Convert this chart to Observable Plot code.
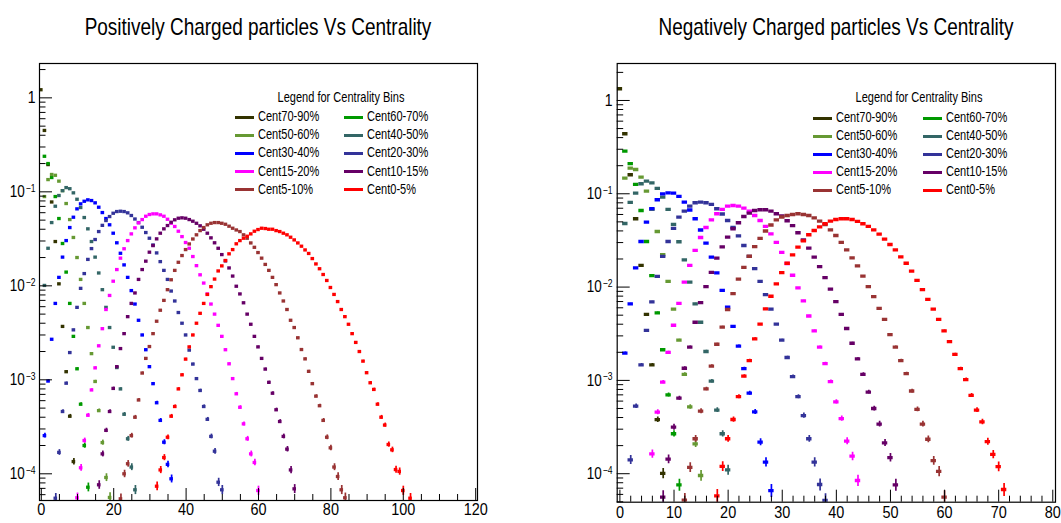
<!DOCTYPE html>
<html><head><meta charset="utf-8">
<script src="https://cdn.jsdelivr.net/npm/d3@7"></script>
<script src="https://cdn.jsdelivr.net/npm/@observablehq/plot@0.6"></script>
<style>
html,body{margin:0;padding:0;background:#fff;}
#root{position:relative;width:1061px;height:523px;overflow:hidden;font-family:"Liberation Sans",Arial,Helvetica,sans-serif;}
.panel{position:absolute;top:0;}
.lbl{position:absolute;white-space:nowrap;line-height:1;color:#000;}
.swatch{position:absolute;height:3px;}
</style></head><body><div id="root"></div>
<script>
// ---------- categories, colours, ticks ----------
const categories = ["Cent70-90%","Cent60-70%","Cent50-60%","Cent40-50%","Cent30-40%","Cent20-30%","Cent15-20%","Cent10-15%","Cent5-10%","Cent0-5%"];
const colors = ["#333300","#009900","#669933","#336666","#0000ff","#333399","#ff00ff","#660066","#993333","#ff0000"];
const titles = ["Positively Charged particles Vs Centrality","Negatively Charged particles Vs Centrality"];
const legendTitle = "Legend for Centrality Bins";
const xMajorPos = [0,20,40,60,80,100,120];
const xMinorPos = [5,10,15,25,30,35,45,50,55,65,70,75,85,90,95,105,110,115];
const xMajorNeg = [0,10,20,30,40,50,60,70,80];
const xMinorNeg = [2,4,6,8,12,14,16,18,22,24,26,28,32,34,36,38,42,44,46,48,52,54,56,58,62,64,66,68,72,74,76,78];
const yMajorTicks = [1e-4,1e-3,1e-2,1e-1,1];
const yMinorTicks = [5e-5,6e-5,7e-5,8e-5,9e-5,2e-4,3e-4,4e-4,5e-4,6e-4,7e-4,8e-4,9e-4,2e-3,3e-3,4e-3,5e-3,6e-3,7e-3,8e-3,9e-3,0.02,0.03,0.04,0.05,0.06,0.07,0.08,0.09,0.2,0.3,0.4,0.5,0.6,0.7,0.8,0.9,2];

// ---------- positively charged: first bin of each series and bin contents ----------
const posFirstBin = [0,1,1,1,1,4,10,16,22,32];
const posCent70_90 = [1.22,0.45,0.195,0.078,0.0296,0.0105,0.0037,0.00122,0.00041,0.000135];
const posCent60_70 = [0.239,0.200,0.142,0.0891,0.0520,0.0282,0.0140,0.0065,0.0029,0.00131,0.00055,0.00020,0.000072];
const posCent50_60 = [0.0891,0.135,0.153,0.150,0.130,0.103,0.0751,0.0507,0.0327,0.0200,0.0117,0.0065,0.0036,0.0019,0.00096,0.00047,0.000215,0.0000914,0.000056];
const posCent40_50 = [0.0101,0.0251,0.0471,0.0703,0.0914,0.103,0.111,0.108,0.0976,0.0834,0.0681,0.0533,0.0404,0.0296,0.0202,0.0137,0.0091,0.0059,0.0036,0.00222,0.00135,0.00080,0.00043,0.000236,0.000118,0.0000676];
const posCent30_40 = [2.55e-4,9.7e-4,2.7e-3,6.5e-3,0.0123,0.0202,0.0303,0.0417,0.0537,0.0659,0.0745,0.0794,0.0822,0.0808,0.0764,0.0686,0.0602,0.0520,0.0446,0.0363,0.0287,0.0222,0.0167,0.0123,0.0089,0.0064,0.0043,0.0030,0.00209,0.00138,0.00091,0.00057,0.00037,0.000217,0.000126,0.0000885];
const posCent20_30 = [5.5e-5,1.69e-4,4.6e-4,9.2e-4,1.95e-3,3.4e-3,5.9e-3,9.4e-3,0.0135,0.0191,0.0249,0.0311,0.0378,0.0440,0.0495,0.0546,0.0592,0.0617,0.0622,0.0617,0.0598,0.0560,0.0514,0.0471,0.0420,0.0369,0.0321,0.0272,0.0224,0.0181,0.0146,0.0117,0.0088,0.0069,0.0052,0.0040,0.0030,0.00207,0.00147,0.00103,0.00077,0.00052,0.00038,0.00025,0.000174,0.0000814,0.0000676];
const posCent15_20 = [5.56e-5,1.16e-4,2.26e-4,4.2e-4,7.8e-4,1.34e-3,2.3e-3,3.5e-3,5.6e-3,7.9e-3,0.0112,0.0149,0.0197,0.0248,0.0303,0.0357,0.0414,0.0468,0.0507,0.0550,0.0574,0.0583,0.0583,0.0569,0.0550,0.0511,0.0463,0.0428,0.0381,0.0334,0.0289,0.0251,0.0205,0.0164,0.0131,0.0107,0.0082,0.0064,0.0050,0.0038,0.0029,0.00209,0.00148,0.00103,0.00071,0.00051,0.00034,0.000236,0.000163,0.000132,0.0000664];
const posCent10_15 = [7.64e-5,1.63e-4,2.9e-4,4.6e-4,8.1e-4,1.38e-3,2.15e-3,3.1e-3,4.7e-3,6.5e-3,8.4e-3,0.0117,0.0149,0.0183,0.0228,0.0268,0.0316,0.0363,0.0404,0.0438,0.0475,0.0504,0.0524,0.0529,0.0524,0.0507,0.0487,0.0463,0.0435,0.0400,0.0363,0.0324,0.0287,0.0251,0.0215,0.0184,0.0155,0.0127,0.0099,0.0082,0.0066,0.0050,0.0039,0.0029,0.00224,0.00169,0.00130,0.00094,0.00072,0.00048,0.00036,0.00025,0.000183,0.000110,0.0000692];
const posCent5_10 = [5.42e-5,1.0e-4,1.28e-4,2.55e-4,4.0e-4,6.1e-4,1.18e-3,1.69e-3,2.26e-3,3.1e-3,4.2e-3,5.5e-3,7.0e-3,9.1e-3,0.0116,0.0146,0.0178,0.0210,0.0243,0.0279,0.0315,0.0349,0.0387,0.0417,0.0446,0.0463,0.0471,0.0471,0.0463,0.0452,0.0431,0.0410,0.0393,0.0378,0.0349,0.0321,0.0286,0.0257,0.0226,0.0197,0.0169,0.0146,0.0123,0.0103,0.0084,0.0069,0.0056,0.0043,0.0036,0.0028,0.0021,0.00167,0.00123,0.00091,0.00067,0.00053,0.00037,0.000245,0.000189,0.000118,0.0000936,0.0000676,0.0000556];
const posCent0_5 = [7.38e-5,1.10e-4,1.49e-4,2.45e-4,4.1e-4,5.2e-4,8.0e-4,1.13e-3,1.66e-3,2.24e-3,3.0e-3,4.0e-3,5.1e-3,6.5e-3,8.1e-3,9.8e-3,0.0118,0.0144,0.0163,0.0186,0.0219,0.0243,0.0280,0.0303,0.0321,0.0337,0.0357,0.0381,0.0397,0.0410,0.0407,0.0400,0.0400,0.0387,0.0378,0.0363,0.0349,0.0329,0.0308,0.0286,0.0264,0.0241,0.0221,0.0195,0.0171,0.0152,0.0132,0.0114,0.0096,0.0081,0.0068,0.0056,0.0047,0.0039,0.0031,0.0025,0.0020,0.00158,0.00119,0.00093,0.00079,0.00055,0.00040,0.00033,0.000205,0.000180,0.000111,0.000106,0.0000664,null,0.000055];

// ---------- negatively charged ----------
const negFirstBin = [0,1,1,1,1,2,6,8,12,18];
const negCent70_90 = [1.335,0.44,0.160,0.054,0.0171,0.0051,0.00147,0.00038,0.000101];
const negCent60_70 = [0.286,0.210,0.126,0.0662,0.0308,0.0133,0.0053,0.00213,0.00070,0.000268,0.000076];
const negCent50_60 = [0.147,0.188,0.182,0.151,0.1066,0.0679,0.0394,0.0222,0.0115,0.0058,0.0027,0.00116,0.00052,0.000209,0.0000957];
const negCent40_50 = [0.048,0.0807,0.1014,0.128,0.1365,0.131,0.114,0.092,0.0679,0.0469,0.0306,0.0196,0.0113,0.0066,0.0042,0.00204,0.00098,0.00048,0.000268,0.000110];
const negCent30_40 = [1.96e-3,6.6e-3,0.0161,0.0308,0.0496,0.0691,0.0863,0.100,0.1025,0.1014,0.0936,0.0813,0.0670,0.0540,0.0409,0.0296,0.0209,0.0142,0.0092,0.0061,0.0038,0.00233,0.00134,0.00073,0.00046,0.000218,0.000133,0.000066];
const negCent20_30 = [1.41e-4,5.3e-4,1.47e-3,3.43e-3,6.95e-3,0.0130,0.0213,0.0308,0.0425,0.0561,0.0651,0.0736,0.0801,0.0813,0.0801,0.0768,0.0691,0.0607,0.0517,0.0435,0.0353,0.0279,0.0213,0.0158,0.0115,0.0083,0.0058,0.0040,0.0027,0.00176,0.0011,0.00067,0.00042,0.000237,0.000133,0.0000766,0.0000516];
const negCent15_20 = [1.63e-4,4.56e-4,9.6e-4,2.0e-3,3.9e-3,6.7e-3,0.0113,0.0171,0.0247,0.0340,0.0435,0.0526,0.0611,0.0679,0.0736,0.0749,0.0736,0.0701,0.0651,0.0585,0.0517,0.0447,0.0371,0.0301,0.0235,0.0179,0.0134,0.0098,0.0071,0.0049,0.0034,0.00227,0.00151,0.00097,0.00059,0.00039,0.000223,0.000154,0.0000846];
const negCent10_15 = [5.6e-5,1.43e-4,3.15e-4,6.45e-4,1.35e-3,2.27e-3,4.2e-3,6.8e-3,0.0101,0.0144,0.0204,0.0270,0.0343,0.0422,0.0489,0.0571,0.0619,0.0662,0.0674,0.0674,0.0651,0.0611,0.0578,0.0514,0.0455,0.0382,0.0321,0.0261,0.0209,0.0166,0.0126,0.0095,0.0070,0.0051,0.0036,0.0025,0.0017,0.00116,0.00075,0.00050,0.00034,0.000214,0.000149,0.000076];
const negCent5_10 = [5.2e-5,1.17e-4,2.37e-4,4.68e-4,8.1e-4,1.42e-3,2.44e-3,3.72e-3,5.75e-3,8.5e-3,0.0122,0.0163,0.0214,0.0272,0.0332,0.0399,0.0463,0.0524,0.0564,0.0585,0.0600,0.0611,0.0600,0.0585,0.0553,0.0508,0.0466,0.0411,0.0357,0.0301,0.0251,0.0206,0.0169,0.0131,0.0101,0.0079,0.0059,0.0045,0.0031,0.00227,0.00163,0.00118,0.00077,0.00049,0.00034,0.000234,0.000138,0.000106,0.000056];
const negCent0_5 = [5.8e-5,1.20e-4,2.37e-4,3.81e-4,6.7e-4,1.11e-3,1.63e-3,2.79e-3,4.0e-3,5.85e-3,7.98e-3,0.0108,0.0143,0.0180,0.0221,0.0268,0.0313,0.0364,0.0404,0.0441,0.0477,0.0508,0.0530,0.0540,0.0540,0.0530,0.0505,0.0477,0.0447,0.0411,0.0369,0.0326,0.0286,0.0251,0.0211,0.0180,0.0148,0.0118,0.0094,0.0074,0.0058,0.0045,0.0034,0.0026,0.0019,0.00134,0.00102,0.00069,0.00048,0.00036,0.000221,0.000161,0.000119,0.0000677];

// statistics used only for the size of the vertical error bars
const posEvents = 1.2e6;
const negEvents = 6e5;

const FONT = '"Liberation Sans", Arial, Helvetica, sans-serif';
const root = document.getElementById("root");

function buildRows(seriesList, firstBins, events) {
  const rows = [];
  seriesList.forEach((vals, k) => vals.forEach((v, i) => {
    if (v == null) return;
    const err = Math.sqrt(v / events);
    rows.push({cat: categories[k], n: firstBins[k] + i, v, lo: v - err, hi: v + err});
  }));
  return rows;
}
const powLabel = d => d === 1 ? "1" : "10^" + Math.round(Math.log10(d));

// narrow the glyphs the way the reference does, without touching positions
function squeeze(svg, sx) {
  svg.querySelectorAll("text").forEach(t => {
    const w = t.getComputedTextLength();
    if (w > 0) {
      t.setAttribute("textLength", (w * sx).toFixed(2));
      t.setAttribute("lengthAdjust", "spacingAndGlyphs");
    }
  });
}
function superscripts(svg) {
  svg.querySelectorAll("text").forEach(t => {
    const s = t.textContent;
    if (!s.startsWith("10^")) return;
    const e = s.slice(3).replace("-", "\u2212");
    while (t.firstChild) t.removeChild(t.firstChild);
    const a = document.createElementNS("http://www.w3.org/2000/svg", "tspan");
    a.textContent = "10";
    const b = document.createElementNS("http://www.w3.org/2000/svg", "tspan");
    b.textContent = e;
    b.setAttribute("dx", "1.2");
    b.setAttribute("dy", "-0.5em");
    b.setAttribute("font-size", "10.5");
    t.appendChild(a); t.appendChild(b);
  });
}

function drawPanel(o) {
  const rows = buildRows(o.series, o.firstBins, o.events);
  const innerW = o.width - o.mL - o.mR, innerH = o.height - o.mT - o.mB;
  const inY = t => t >= o.yDomain[0] && t <= o.yDomain[1];
  const svg = Plot.plot({
    width: o.width, height: o.height,
    marginLeft: o.mL, marginRight: o.mR, marginTop: o.mT, marginBottom: o.mB,
    x: {domain: o.xDomain, label: null},
    y: {type: "log", domain: o.yDomain, label: null},
    color: {domain: categories, range: colors},
    style: {fontFamily: FONT, fontSize: "17px", color: "#000", background: "transparent", overflow: "visible"},
    marks: [
      Plot.ruleX(rows, {x: "n", y1: "lo", y2: "hi", stroke: "cat", strokeWidth: 1.7, clip: true}),
      Plot.ruleY(rows, {y: "v", x1: d => d.n - 0.5, x2: d => d.n + 0.5, stroke: "cat", strokeWidth: 3.3, clip: true}),
      Plot.tickX(o.xMinor, {x: d => d, stroke: "#000", insetTop: innerH - 6}),
      Plot.tickX(o.xMajor, {x: d => d, stroke: "#000", insetTop: innerH - 12}),
      Plot.tickY(yMinorTicks.filter(inY), {y: d => d, stroke: "#000", insetRight: innerW - 6.5}),
      Plot.tickY(yMajorTicks.filter(inY), {y: d => d, stroke: "#000", insetRight: innerW - 13}),
      Plot.axisX({ticks: o.xMajor, tickSize: 0, tickPadding: o.xPad, tickFormat: d => String(d), fontSize: 17, label: null}),
      Plot.axisY({ticks: yMajorTicks, tickSize: 0, tickPadding: o.yPad, tickFormat: powLabel, fontSize: 16.5, label: null}),
      Plot.frame({stroke: "#000", strokeWidth: 1.2})
    ]
  });
  const wrap = document.createElement("div");
  wrap.className = "panel";
  wrap.style.left = o.left + "px";
  wrap.appendChild(svg);
  root.appendChild(wrap);
  superscripts(svg);
  squeeze(svg, 0.85);
}

function addLabel(text, x, capY, size, anchor, sx) {
  const d = document.createElement("div");
  d.className = "lbl";
  d.textContent = text;
  d.style.fontSize = size + "px";
  d.style.left = x + "px";
  d.style.top = (capY - 0.488 * size) + "px";
  if (anchor === "middle") { d.style.transform = `translateX(-50%) scaleX(${sx})`; d.style.transformOrigin = "50% 50%"; }
  else { d.style.transform = `scaleX(${sx})`; d.style.transformOrigin = "0 50%"; }
  root.appendChild(d);
}
function addLegend(L) {
  addLabel(legendTitle, L.titleX, L.titleY, 14.5, "middle", 0.76);
  categories.forEach((c, i) => {
    const row = Math.floor(i / 2), col = i % 2;
    const y = L.rowY[row];
    const sw = document.createElement("div");
    sw.className = "swatch";
    sw.style.left = (col ? L.line2 : L.line1) + "px";
    sw.style.width = "19px";
    sw.style.top = (y - 0.5) + "px";
    sw.style.background = colors[i];
    root.appendChild(sw);
    addLabel(c, col ? L.text2 : L.text1, y, 14.5, "start", 0.76);
  });
}

drawPanel({
  left: 0, width: 540, height: 523, mL: 39, mR: 63, mT: 63, mB: 23,
  xDomain: [-0.5, 120.5], yDomain: [5.2e-5, 2.32],
  xMajor: xMajorPos, xMinor: xMinorPos, xPad: 2, yPad: 4,
  series: [posCent70_90,posCent60_70,posCent50_60,posCent40_50,posCent30_40,posCent20_30,posCent15_20,posCent10_15,posCent5_10,posCent0_5],
  firstBins: posFirstBin, events: posEvents
});
drawPanel({
  left: 540, width: 521, height: 523, mL: 76.7, mR: 6, mT: 63, mB: 21.3,
  xDomain: [-0.5, 80.5], yDomain: [4.95e-5, 2.49],
  xMajor: xMajorNeg, xMinor: xMinorNeg, xPad: 4, yPad: 4.7,
  series: [negCent70_90,negCent60_70,negCent50_60,negCent40_50,negCent30_40,negCent20_30,negCent15_20,negCent10_15,negCent5_10,negCent0_5],
  firstBins: negFirstBin, events: negEvents
});

addLabel(titles[0], 258, 27, 24, "middle", 0.79);
addLabel(titles[1], 836, 27, 24, "middle", 0.79);
addLegend({titleX: 341, titleY: 97.5, rowY: [116.3, 134.4, 152.5, 170.6, 188.7], line1: 235, text1: 258.3, line2: 344.3, text2: 366.7});
addLegend({titleX: 919.3, titleY: 97.5, rowY: [117, 135, 153, 171, 189], line1: 812.7, text1: 835.7, line2: 922.7, text2: 945.7});
</script></body></html>
